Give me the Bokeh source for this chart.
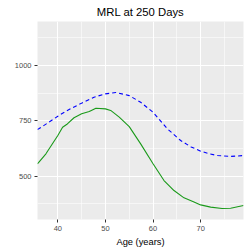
from bokeh.plotting import figure
from bokeh.models import FixedTicker, Range1d
from bokeh.embed import file_html
from bokeh.resources import INLINE

# Data
age_blue = [35.7, 36.0, 38.0, 40.0, 42.0, 45.0, 47.6, 50.0, 52.2, 55.0, 57.4, 60.0,
            63.0, 65.8, 68.0, 70.0, 72.0, 73.5, 76.3, 79.0]
mrl_blue = [711, 714, 742, 771, 797, 830, 857, 872, 878, 864, 834, 789,
            714, 661, 632, 613, 600, 593, 589, 593]

age_green = [35.7, 35.9, 37.5, 40.0, 41.0, 42.0, 43.4, 45.0, 46.6, 48.0, 50.0, 51.1,
             52.9, 55.0, 57.4, 60.0, 62.3, 64.4, 66.5, 68.6, 70.0, 72.1, 74.5, 76.3, 79.0]
mrl_green = [556, 560, 601, 684, 721, 736, 764, 782, 792, 807, 804, 797,
             767, 724, 646, 556, 480, 435, 402, 383, 370, 360, 354, 355, 367]

x_ticks = [40, 50, 60, 70]
x_minor = [35, 45, 55, 65, 75]
y_ticks = [500, 750, 1000]
y_minor = [375, 625, 875, 1125]

FONT = "Liberation Sans"

p = figure(width=249, height=249, output_backend="svg", toolbar_location=None,
           x_range=Range1d(35.73, 79.0), y_range=Range1d(304, 1199),
           title="MRL at 250 Days",
           min_border_left=37, min_border_right=6, min_border_top=21, min_border_bottom=30)

p.title.text_font = FONT
p.title.text_font_size = "11.3px"
p.title.text_font_style = "normal"
p.title.align = "center"
p.title.text_color = "black"
p.title.standoff = 7
p.title.offset = 0

p.background_fill_color = "#EBEBEB"
p.border_fill_color = "white"
p.outline_line_color = None

p.xaxis.ticker = FixedTicker(ticks=x_ticks, minor_ticks=x_minor)
p.yaxis.ticker = FixedTicker(ticks=y_ticks, minor_ticks=y_minor)

for ax in (p.xaxis, p.yaxis):
    ax.axis_line_color = None
    ax.major_tick_line_color = "#333333"
    ax.major_tick_line_width = 1
    ax.major_tick_out = 3
    ax.major_tick_in = 0
    ax.minor_tick_line_color = None
    ax.major_label_text_font = FONT
    ax.major_label_text_font_size = "7.5px"
    ax.major_label_text_color = "#4D4D4D"
    ax.major_label_standoff = 2
    ax.axis_label_text_font = FONT
    ax.axis_label_text_font_size = "9.3px"
    ax.axis_label_text_font_style = "normal"
    ax.axis_label_text_color = "black"

p.xaxis.axis_label = "Age (years)"
p.xaxis.axis_label_standoff = 3

for g in (p.xgrid, p.ygrid):
    g.grid_line_color = "white"
    g.grid_line_width = 1.1
    g.minor_grid_line_color = "white"
    g.minor_grid_line_width = 0.55

p.line(age_blue, mrl_blue, line_color="blue", line_width=1.1, line_dash="4 3")
p.line(age_green, mrl_green, line_color="#1A9A1A", line_width=1.1)

open("out.html", "w").write(file_html(p, INLINE))
